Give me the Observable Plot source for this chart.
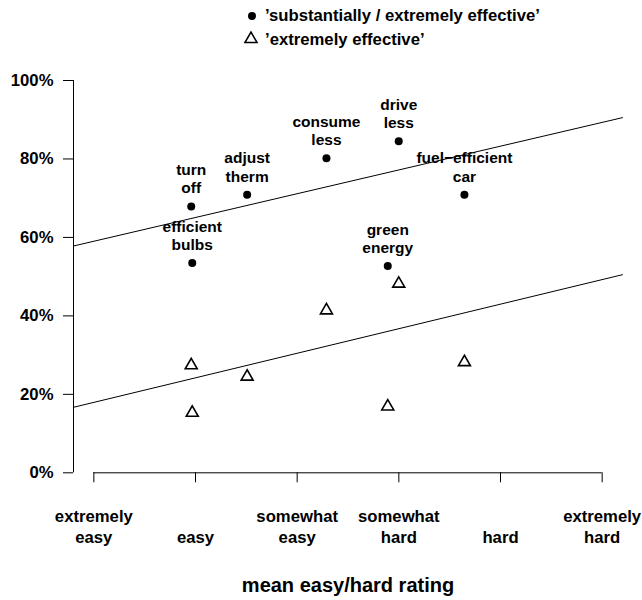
<!DOCTYPE html>
<html><head><meta charset="utf-8">
<script src="https://cdn.jsdelivr.net/npm/d3@7"></script>
<script src="https://cdn.jsdelivr.net/npm/@observablehq/plot@0.6"></script>
<style>
body{margin:0;background:#fff;font-family:"Liberation Sans",Arial,sans-serif;}
#legend{position:relative;width:642px;height:56px;}
#legend .sym{position:absolute;}
#legend .lab{position:absolute;font-size:16.7px;font-weight:bold;line-height:20px;white-space:nowrap;color:#000;}
</style></head><body>
<div id="legend"></div>
<div id="chart"></div>
<script>
// ---- data ----
const actions = ["turn\noff", "efficient\nbulbs", "adjust\ntherm", "consume\nless", "drive\nless", "fuel\u2212efficient\ncar", "green\nenergy"];
const easeRating = [1.958, 1.968, 2.508, 3.288, 3.999, 4.645, 3.891];
const pctSubstantially = [67.9, 53.5, 70.9, 80.2, 84.5, 70.9, 52.7];
const pctExtremely = [27.4, 15.3, 24.5, 41.4, 48.2, 28.2, 16.9];
const seriesNames = ["\u2019substantially / extremely effective\u2019", "\u2019extremely effective\u2019"];
const fitIntercept = [52.96, 11.69];
const fitSlope = [6.06, 6.26];
const xTicks = [1, 2, 3, 4, 5, 6];
const xTickLabels = ["extremely\neasy", "easy", "somewhat\neasy", "somewhat\nhard", "hard", "extremely\nhard"];
const yTicks = [0, 20, 40, 60, 80, 100];
const yTickLabels = ["0%", "20%", "40%", "60%", "80%", "100%"];
const xDomain = [0.8, 6.2];
const yDomain = [0, 100];
const xTitle = "mean easy/hard rating";

// ---- tables ----
const table = actions.map((a, i) => ({label: a, x: easeRating[i], sub: pctSubstantially[i], ext: pctExtremely[i]}));
const fitData = [];
fitIntercept.forEach((a, s) => {
  xDomain.forEach(x => fitData.push({s, x, y: a + fitSlope[s] * x}));
});

// ---- legend ----
const legend = document.getElementById("legend");
const ns = "http://www.w3.org/2000/svg";
function sym(kind, cx, cy) {
  const svg = document.createElementNS(ns, "svg");
  svg.setAttribute("width", 20); svg.setAttribute("height", 20);
  svg.setAttribute("class", "sym");
  svg.style.left = (cx - 10) + "px"; svg.style.top = (cy - 10) + "px";
  let el;
  if (kind === "circle") {
    el = document.createElementNS(ns, "circle");
    el.setAttribute("cx", 10); el.setAttribute("cy", 10); el.setAttribute("r", 4); el.setAttribute("fill", "#000");
  } else {
    el = document.createElementNS(ns, "polygon");
    el.setAttribute("points", "10,3.07 16,13.46 4,13.46");
    el.setAttribute("fill", "none"); el.setAttribute("stroke", "#000"); el.setAttribute("stroke-width", 1.6);
  }
  svg.appendChild(el);
  legend.appendChild(svg);
}
sym("circle", 251.7, 15.7);
sym("triangle", 250.7, 39.3);
[[seriesNames[0], 5.9], [seriesNames[1], 29.5]].forEach(([t, top]) => {
  const d = document.createElement("div");
  d.className = "lab"; d.textContent = t;
  d.style.left = "265px"; d.style.top = top + "px";
  legend.appendChild(d);
});

// ---- chart ----
const font = {fontFamily: "Liberation Sans, Arial, sans-serif"};
const chart = Plot.plot({
  width: 642,
  height: 544,
  marginLeft: 73,
  marginRight: 20,
  marginTop: 24,
  marginBottom: 127.7,
  style: {fontFamily: "Liberation Sans, Arial, sans-serif", color: "#000", background: "#fff", overflow: "visible"},
  x: {domain: xDomain},
  y: {domain: yDomain},
  marks: [
    Plot.ruleX([xDomain[0]], {y1: yTicks[0], y2: yTicks[yTicks.length - 1], stroke: "#000", strokeWidth: 1}),
    Plot.ruleY([0], {x1: xTicks[0], x2: xTicks[xTicks.length - 1], stroke: "#000", strokeWidth: 1}),
    Plot.axisY({ticks: yTicks, tickFormat: d => yTickLabels[yTicks.indexOf(d)], tickSize: 10, tickPadding: 10,
      fontSize: 16.7, fontWeight: "bold", stroke: "#000", strokeOpacity: 1, label: null}),
    Plot.axisX({ticks: xTicks, tickFormat: () => "", tickSize: 10, stroke: "#000", strokeOpacity: 1, label: null}),
    Plot.text(xTicks, {x: d => d, y: () => 0, text: (d, i) => xTickLabels[i], lineAnchor: "bottom", dy: 69.7,
      fontSize: 16.7, fontWeight: "bold", lineHeight: 1.2, fill: "#000"}),
    Plot.text([xTitle], {frameAnchor: "bottom", text: d => d, lineAnchor: "bottom", dy: 118.7,
      fontSize: 20, fontWeight: "bold", fill: "#000"}),
    Plot.line(fitData, {x: "x", y: "y", z: "s", stroke: "#000", strokeWidth: 1}),
    Plot.dot(table, {x: "x", y: "sub", r: 4, fill: "#000", stroke: null}),
    Plot.dot(table, {x: "x", y: "ext", symbol: "triangle", r: 4.45, fill: "none", stroke: "#000", strokeWidth: 1.6}),
    Plot.text(table, {x: "x", y: "sub", text: "label", lineAnchor: "bottom", dy: -13, fontSize: 15.5,
      fontWeight: "bold", lineHeight: 1.18, fill: "#000"})
  ]
});
document.getElementById("chart").appendChild(chart);
</script>
</body></html>
